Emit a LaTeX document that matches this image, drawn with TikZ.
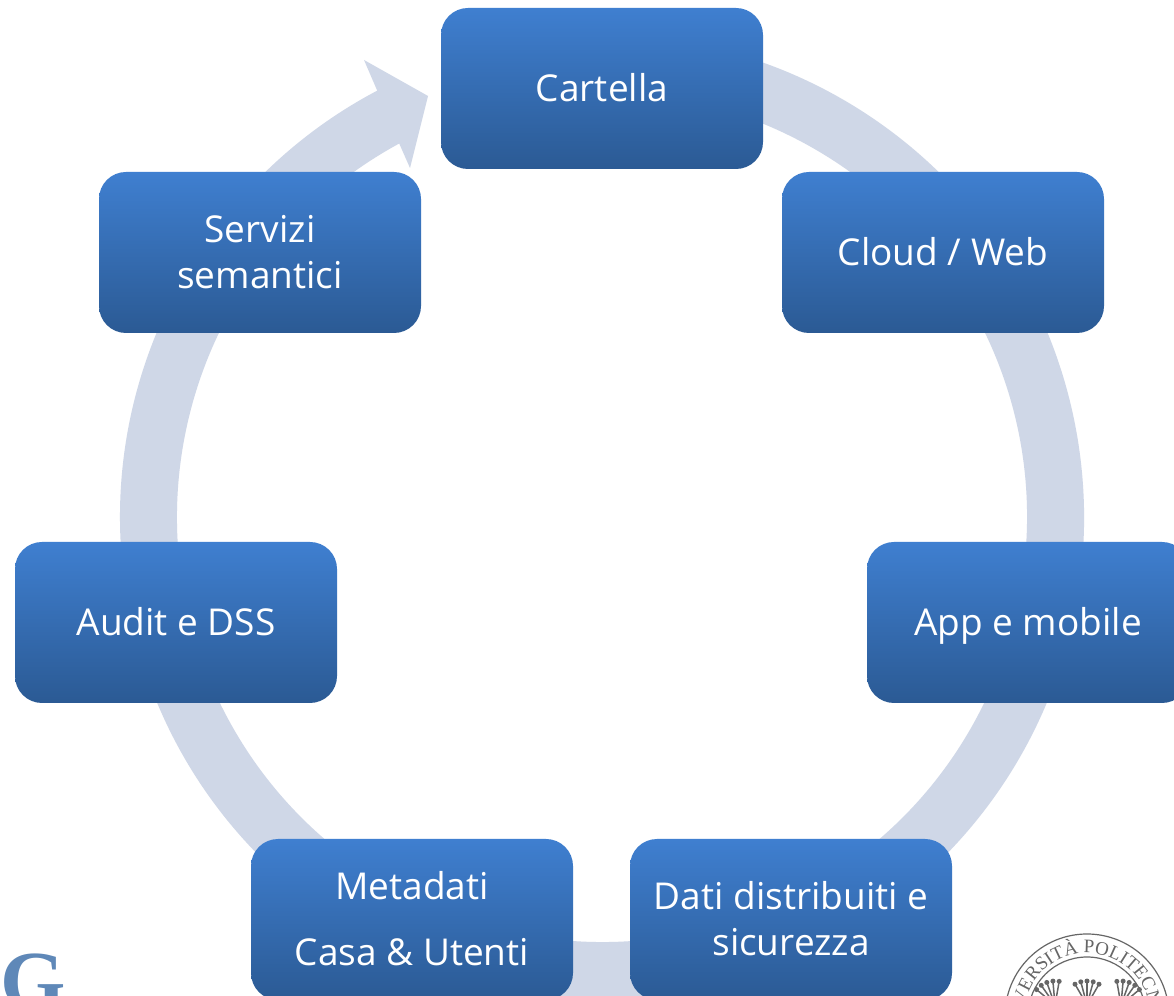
\documentclass[tikz,border=0pt]{standalone}
\usepackage{fontspec}
\setmainfont{Open Sans}
\newfontfamily\logofont{Liberation Serif}
\usetikzlibrary{decorations.text}
\definecolor{boxtop}{HTML}{3F7FD0}
\definecolor{boxbottom}{HTML}{2B5A94}
\definecolor{ringcol}{HTML}{CFD7E7}
\definecolor{logoblue}{HTML}{5F88B8}
\definecolor{sealgray}{HTML}{666666}
\newcommand{\stagestrut}{\rule[-10pt]{0pt}{46pt}}
\tikzset
{
    stagenode/.style = {rectangle, rounded corners=27pt, minimum width=322pt, minimum height=161pt, top color=boxtop, bottom color=boxbottom, align=center, text=white, font=\fontsize{37}{46}\selectfont, execute at end node=\stagestrut},
    ringarrow/.style = {fill=ringcol},
    sealline/.style  = {draw=sealgray, line width=1.2pt}
}

\begin{document}
\begin{tikzpicture}[x=1pt,y=1pt]
\path[use as bounding box,clip] (0,0) rectangle (1174,995);
\fill[white] (0,0) rectangle (1174,995);

\fill[ringarrow,shift={(602,478)}] (100:482) arc[start angle=100,end angle=-242.2,radius=482]
	-- (-238,457) -- (-174,421) -- (-192,349) -- (-241.5:425)
	arc[start angle=-241.5,end angle=100,radius=425] -- cycle;

\node[stagenode] (cartella) at (602,906.5) {\stagestrut Cartella};
\node[stagenode] (cloud) at (943,742.5) {\stagestrut Cloud / Web};
\node[stagenode] (app) at (1028,372.5) {\stagestrut App e mobile};
\node[stagenode] (dati) at (791,75.5) {\stagestrut Dati distribuiti e\\sicurezza};
\node[stagenode] (metadati) at (412,75.5) {\stagestrut Metadati\\[20pt]Casa \& Utenti};
\node[stagenode] (audit) at (176,372.5) {\stagestrut Audit e DSS};
\node[stagenode] (servizi) at (260,742.5) {\stagestrut Servizi\\semantici};

\node[text=logoblue, font=\logofont\bfseries\fontsize{84}{84}\selectfont, anchor=base] (logog) at (33,-14) {G};

\draw[sealline] (1087,-21) circle (82);
\draw[sealline] (1087,-21) circle (59);
\path[decorate, decoration={text along path, text align=center, text color=sealgray, text={|\logofont\fontsize{19}{19}\selectfont|VERSITÀ POLITECN}}]
	(1087,-21) ++(165:63) arc[start angle=165,end angle=15,radius=63];
\foreach \sx/\tilt in {1055/20,1087/0,1121/-20}
{
	\foreach \ang in {-30,-15,0,15,30}
	{
		\draw[sealgray,line width=1.5pt,shift={(\sx,-10)}] (0,0) -- (\ang+\tilt+90:22);
		\fill[sealgray,shift={(\sx,-10)}] (\ang+\tilt+90:24) circle (2.5);
	}
}
\end{tikzpicture}
\end{document}
